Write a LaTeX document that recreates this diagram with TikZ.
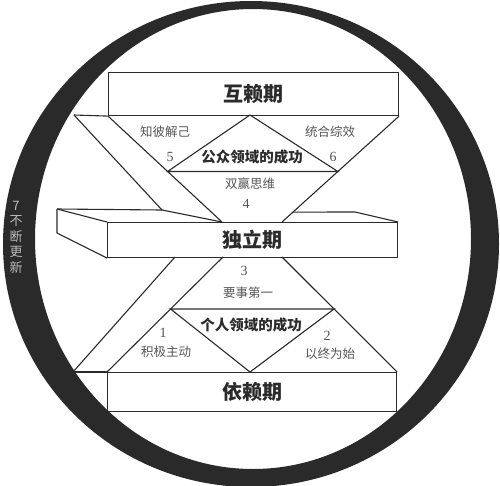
\documentclass[tikz,border=0pt]{standalone}
\usepackage{fontspec}
\setmainfont{Liberation Serif}
\newfontfamily\cjk{Noto Sans CJK SC}
\usetikzlibrary{calc}
\definecolor{ink}{HTML}{2B2B2B}
\definecolor{ringc}{HTML}{2A2A2A}
\definecolor{lbl}{HTML}{555555}
\definecolor{ringtext}{HTML}{BBBBBB}
\begin{document}
\begin{tikzpicture}[x=1pt,y=-1pt,line join=miter,
  edge/.style={draw=ink,line width=1.1pt},
  boxnode/.style={draw=ink,line width=1.1pt,inner sep=0pt,anchor=north west,
    font=\cjk\bfseries\fontsize{20}{20}\selectfont,text=ink},
  sub/.style={font=\cjk\bfseries\fontsize{14.5}{15}\selectfont,text=ink,inner sep=0pt},
  lab/.style={font=\cjk\fontsize{12.5}{13}\selectfont,text=lbl,inner sep=0pt},
  num/.style={font=\fontsize{14}{14}\selectfont,text=lbl,inner sep=0pt}]
\useasboundingbox (0,0) rectangle (500,485);
\fill[white] (0,0) rectangle (500,485);

% boxes
\node[boxnode,minimum width=290pt,minimum height=43pt] (hu) at (108,72) {\raisebox{-1pt}{互赖期}};
\node[boxnode,minimum width=290pt,minimum height=35pt] (du) at (107,222) {\raisebox{-2.5pt}{独立期}};
\node[boxnode,minimum width=289pt,minimum height=39pt] (yi) at (107,372) {\raisebox{-2.5pt}{依赖期}};

% upper half
\coordinate (a1) at (74,115);
\coordinate (a2) at (162,210);
\coordinate (v1) at (222,222);
\coordinate (v2) at (282,222);
\coordinate (apexT) at (250,115);
\draw[edge] (a1) -- (hu.south west);
\draw[edge] (a1) -- (a2);
\draw[edge] (hu.south west) -- (v1);
\draw[edge] (hu.south east) -- (v2);
\coordinate (tL) at ($(hu.south west)!0.523!(v1)$);
\coordinate (tR) at ($(hu.south east)!0.523!(v2)$);
\draw[edge] (tL) -- (apexT) -- (tR) -- cycle;

% 3D slab of middle box
\coordinate (s1) at (57,209);
\coordinate (s2) at (57,233);
\coordinate (r1) at ($(hu.south east)!0.9065!(v2)$);
\coordinate (r2) at (355,212);
\draw[edge] (s1) -- (du.north west);
\draw[edge] (s1) -- (s2) -- (du.south west);
\draw[edge] (s1) -- (a2) -- (v1);
\draw[edge] (r1) -- (r2) -- (du.north east);

% lower half
\coordinate (b1) at (73,372);
\coordinate (b2) at (175,257);
\coordinate (w1) at (223,257);
\coordinate (w2) at (282,257);
\coordinate (apexB) at (250,372);
\draw[edge] (b1) -- (yi.north west);
\draw[edge] (b1) -- (b2);
\draw[edge] (yi.north west) -- (w1);
\draw[edge] (yi.north east) -- (w2);
\coordinate (bL) at ($(w1)!0.452!(yi.north west)$);
\coordinate (bR) at ($(w2)!0.452!(yi.north east)$);
\draw[edge] (bL) -- (bR) -- (apexB) -- cycle;

% labels upper
\node[lab] (l5) at (165,132) {知彼解己};
\node[num] (n5) at (170,157) {5};
\node[sub] (pub) at (252,157) {公众领域的成功};
\node[lab] (l6) at (330,132) {统合综效};
\node[num] (n6) at (333,157) {6};
\node[lab] (l4) at (250,184) {双赢思维};
\node[num] (n4) at (246,204) {4};

% labels lower
\node[num] (n3) at (244,271) {3};
\node[lab] (l3) at (248,293) {要事第一};
\node[sub] (pri) at (251,325) {个人领域的成功};
\node[num] (n1) at (163,333) {1};
\node[lab] (l1) at (166,352) {积极主动};
\node[num] (n2) at (327,336) {2};
\node[lab] (l2) at (330,354) {以终为始};

% ring
\fill[ringc,even odd rule] (251,244) ellipse [x radius=248pt,y radius=243pt]
  (253,239) ellipse [x radius=218pt,y radius=230pt];
\node[font=\cjk\fontsize{13}{15.5}\selectfont,text=ringtext,align=center,inner sep=0pt,anchor=north] (renew) at (16,201) {7\\不\\断\\更\\新};
\end{tikzpicture}
\end{document}
